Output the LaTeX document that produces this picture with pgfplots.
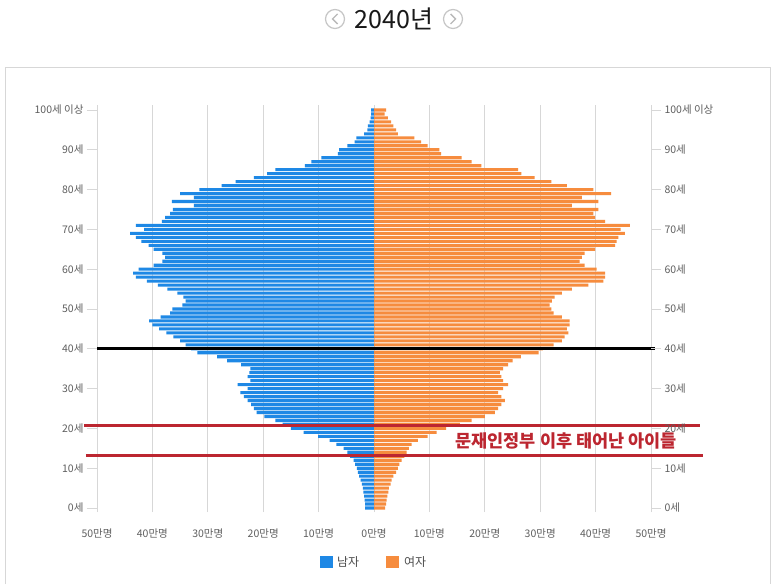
\documentclass[border=0pt]{standalone}
\usepackage{pgfplots}
\pgfplotsset{compat=1.18}
\usepackage{pgfplotstable}
\usepackage{fontspec}
\setmainfont{Noto Sans CJK KR}
\definecolor{mblue}{RGB}{30,136,229}
\definecolor{forange}{RGB}{246,140,62}
\definecolor{annred}{RGB}{188,38,48}
\definecolor{txtgray}{RGB}{95,95,95}
\definecolor{gridgray}{RGB}{215,215,215}

\pgfplotstableread{
age male female
0 1.6 2.0
1 1.6 2.2
2 1.7 2.3
3 1.8 2.4
4 1.9 2.6
5 2.0 2.7
6 2.2 3.0
7 2.4 3.2
8 2.7 3.5
9 2.9 4.0
10 3.1 4.3
11 3.4 4.6
12 3.7 5.0
13 4.3 5.5
14 4.8 5.9
15 5.5 6.3
16 6.8 6.8
17 8.0 7.9
18 10.1 9.7
19 12.7 11.3
20 15.0 13.0
21 16.5 15.5
22 17.8 17.6
23 19.8 20.0
24 21.2 21.8
25 21.7 22.4
26 22.2 23.0
27 22.8 23.6
28 23.5 23.0
29 24.1 22.4
30 22.8 23.3
31 24.6 24.2
32 22.3 23.3
33 22.8 23.0
34 22.5 22.7
35 22.3 23.3
36 24.0 24.2
37 26.5 25.0
38 28.3 26.5
39 31.9 29.7
40 33.0 30.5
41 34.0 32.4
42 35.0 33.9
43 36.2 34.4
44 37.5 35.1
45 38.8 34.8
46 40.0 35.3
47 40.6 35.3
48 38.5 33.9
49 36.8 32.4
50 36.4 32.0
51 34.6 31.7
52 34.0 32.1
53 34.4 32.6
54 35.5 33.9
55 37.3 35.7
56 39.0 38.7
57 41.0 41.4
58 43.0 41.7
59 43.5 41.7
60 42.5 40.2
61 39.8 38.0
62 38.2 37.1
63 37.7 37.5
64 38.2 38.0
65 39.8 39.9
66 40.7 43.5
67 42.0 43.8
68 43.0 44.1
69 44.0 45.3
70 41.5 44.5
71 43.0 46.2
72 38.3 41.7
73 37.7 39.9
74 36.8 39.6
75 36.3 40.5
76 32.5 35.7
77 36.5 40.5
78 32.5 37.5
79 35.0 42.8
80 31.5 39.6
81 27.5 34.8
82 25.0 32.0
83 21.7 29.0
84 19.3 26.6
85 17.8 26.0
86 12.5 19.4
87 11.3 17.6
88 9.5 15.8
89 6.5 12.1
90 6.3 11.8
91 4.8 9.7
92 3.5 8.5
93 3.2 7.3
94 1.8 4.3
95 1.2 4.0
96 1.1 3.5
97 0.8 3.1
98 0.6 2.5
99 0.5 1.9
100 0.5 2.2
}\pyramid

\begin{document}
\begin{tikzpicture}
\useasboundingbox[fill=white] (0pt,0pt) rectangle (778pt,584pt);
% frame
\draw[gridgray, line width=1pt] (5.5pt,0pt) -- (5.5pt,516pt) -- (770.5pt,516pt) -- (770.5pt,0pt);
% title
\node[text={rgb,255:red,25;green,25;blue,25}, font=\fontsize{25}{29}\selectfont] at (394pt,565pt) {2040년};
\draw[gray!45, line width=1.2pt] (335pt,565pt) circle (9.5pt);
\draw[gray!55, line width=1.4pt] (337.5pt,570pt) -- (332.5pt,565pt) -- (337.5pt,560pt);
\draw[gray!45, line width=1.2pt] (453pt,565pt) circle (9.5pt);
\draw[gray!55, line width=1.4pt] (450.5pt,570pt) -- (455.5pt,565pt) -- (450.5pt,560pt);

\begin{axis}[
  at={(97pt,72pt)}, anchor=south west, scale only axis,
  width=554pt, height=407.2pt,
  xmin=-50, xmax=50, ymin=-1, ymax=101.3,
  xbar, bar width=0.78, bar shift=0pt,
  axis line style={draw=none},
  xtick={-50,-40,...,50},
  xticklabels={50만명,40만명,30만명,20만명,10만명,0만명,10만명,20만명,30만명,40만명,50만명},
  xmajorgrids, major grid style={gridgray, line width=0.8pt},
  x tick style={draw=none},
  ytick={0,10,...,100},
  yticklabels={0세,10세,20세,30세,40세,50세,60세,70세,80세,90세,100세 이상},
  ytick pos=left, tick align=outside, major tick length=10pt,
  y tick style={gridgray, line width=0.8pt},
  tick label style={font=\fontsize{10.5}{12}\selectfont, text=txtgray},
  xticklabel style={yshift=-3pt},
  clip=false,
]
\addplot[fill=mblue, draw=none] table[x expr=-\thisrow{male}, y=age] {\pyramid};
\addplot[fill=forange, draw=none] table[x=female, y=age] {\pyramid};
\draw[black, line width=3pt] (axis cs:-50,40) -- (axis cs:50.8,40);
\draw[annred, line width=3pt] (axis cs:-52.3,20.85) -- (axis cs:58.9,20.85);
\draw[annred, line width=3pt] (axis cs:-52.0,13.07) -- (axis cs:59.3,13.07);
\node[text=annred, font=\fontsize{17.5}{20}\selectfont\bfseries] at (axis cs:34.7,16.9) {문재인정부 이후 태어난 아이들};
\end{axis}

\begin{axis}[
  at={(97pt,72pt)}, anchor=south west, scale only axis,
  width=554pt, height=407.2pt,
  xmin=-50, xmax=50, ymin=-1, ymax=101.3,
  axis line style={draw=none},
  xtick=\empty,
  ytick={0,10,...,100},
  yticklabels={0세,10세,20세,30세,40세,50세,60세,70세,80세,90세,100세 이상},
  ytick pos=right, yticklabel pos=right, tick align=outside, major tick length=10pt,
  y tick style={gridgray, line width=0.8pt},
  tick label style={font=\fontsize{10.5}{12}\selectfont, text=txtgray},
]
\end{axis}

% legend
\fill[mblue] (320pt,16pt) rectangle (333pt,28pt);
\node[anchor=west, text=txtgray!80!black, font=\fontsize{12}{14}\selectfont, inner sep=0pt] at (337pt,22pt) {남자};
\fill[forange] (386pt,16pt) rectangle (399pt,28pt);
\node[anchor=west, text=txtgray!80!black, font=\fontsize{12}{14}\selectfont, inner sep=0pt] at (404pt,22pt) {여자};
\end{tikzpicture}
\end{document}
